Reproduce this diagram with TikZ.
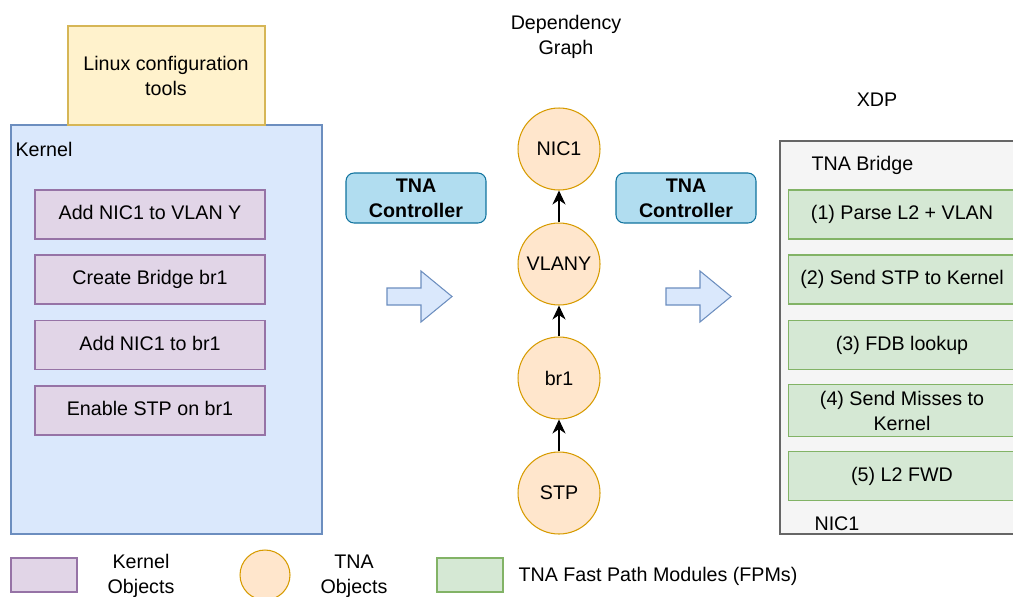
\documentclass[tikz,border=0pt]{standalone}
\usepackage{fontspec}
\setmainfont{Liberation Sans}
\usetikzlibrary{arrows.meta}
\definecolor{toolfill}{HTML}{FFF2CC}
\definecolor{toolline}{HTML}{D6B656}
\definecolor{kernfill}{HTML}{DAE8FC}
\definecolor{kernline}{HTML}{6C8EBF}
\definecolor{kobjfill}{HTML}{E1D5E7}
\definecolor{kobjline}{HTML}{9673A6}
\definecolor{tobjfill}{HTML}{FFE6CC}
\definecolor{tobjline}{HTML}{D79B00}
\definecolor{fpmfill}{HTML}{D5E8D4}
\definecolor{fpmline}{HTML}{82B366}
\definecolor{xdpfill}{HTML}{F5F5F5}
\definecolor{xdpline}{HTML}{666666}
\definecolor{ctrlfill}{HTML}{B1DDF0}
\definecolor{ctrlline}{HTML}{10739E}
\begin{document}
\begin{tikzpicture}[x=0.02cm,y=-0.02cm,line width=0.6pt,
    every node/.style={font=\fontsize{11.2}{14.2}\selectfont,align=center},
    kobj/.style={draw=kobjline,fill=kobjfill,minimum width=4.6cm,minimum height=0.98cm,
      text height=1.6ex,text depth=.45ex},
    fpm/.style={draw=fpmline,fill=fpmfill,minimum width=4.56cm,minimum height=0.98cm},
    tobj/.style={circle,draw=tobjline,fill=tobjfill,minimum size=1.64cm,inner sep=0pt},
    ctrl/.style={draw=ctrlline,fill=ctrlfill,rounded corners=0.16cm,minimum width=2.8cm,
      minimum height=1cm,inner sep=0pt,font=\fontsize{11.2}{14.2}\selectfont\bfseries},
    bigarrow/.style={draw=kernline,fill=kernfill},
    lefttext/.style={anchor=west,inner sep=0pt}]
  \clip (0,0) rectangle (1013,596);
  % panels
  \draw[draw=kernline,fill=kernfill] (11,125) rectangle (322,534);
  \draw[draw=toolline,fill=toolfill] (68,26) rectangle (265,125);
  \draw[draw=xdpline,fill=xdpfill] (780,141) rectangle (1030,534);
  \draw
    (166,75.5) node (tools){Linux configuration\\tools}
    (15,149) node[lefttext] (kernel){Kernel}
    (150,214.5) node[kobj] (vlan){Add NIC1 to VLAN Y}
    (150,279.5) node[kobj] (bridge){Create Bridge br1}
    (150,345) node[kobj] (addnic){Add NIC1 to br1}
    (150,410.5) node[kobj] (stpon){Enable STP on br1};
  \draw
    (566,36.5) node (dep){Dependency\\Graph}
    (559,149) node[tobj] (nic1){NIC1}
    (559,264) node[tobj] (vlany){VLANY}
    (559,378) node[tobj] (br1){br1}
    (559,493) node[tobj] (stp){STP};
  \draw
    (416,198) node[ctrl] (ctrl1){TNA\\Controller}
    (686,198) node[ctrl] (ctrl2){TNA\\Controller};
  \draw
    (877,100) node (xdp){XDP}
    (811,165) node[lefttext] (tnabr){TNA Bridge}
    (902,214.5) node[fpm] (fpm1){(1) Parse L2 + VLAN}
    (902,279.5) node[fpm] (fpm2){(2) Send STP to Kernel}
    (902,345) node[fpm] (fpm3){(3) FDB lookup}
    (902,410.5) node[fpm] (fpm4){(4) Send Misses to\\Kernel}
    (902,476) node[fpm] (fpm5){(5) L2 FWD}
    (814,524) node[lefttext] (nic1port){NIC1};
  \begin{scope}[-{Stealth[length=8pt,width=7.5pt]}]
    \draw (vlany) to (nic1);
    \draw (br1) to (vlany);
    \draw (stp) to (br1);
  \end{scope}
  % block arrows
  \draw[bigarrow] (387,288) -- (421,288) -- (421,271) -- (452,296.5) -- (421,322)
    -- (421,305) -- (387,305) -- cycle;
  \draw[bigarrow] (666,288) -- (700,288) -- (700,271) -- (731,296.5) -- (700,322)
    -- (700,305) -- (666,305) -- cycle;
  % legend
  \draw
    (44,575) node[draw=kobjline,fill=kobjfill,minimum width=1.32cm,minimum height=0.68cm] (legk){}
    (141,576) node (legktext){Kernel\\Objects}
    (265,575) node[tobj,minimum size=1cm] (legt){}
    (354,576) node (legttext){TNA\\Objects}
    (470,575) node[draw=fpmline,fill=fpmfill,minimum width=1.32cm,minimum height=0.68cm] (legf){}
    (518,576) node[lefttext] (legftext){TNA Fast Path Modules (FPMs)};
\end{tikzpicture}
\end{document}
